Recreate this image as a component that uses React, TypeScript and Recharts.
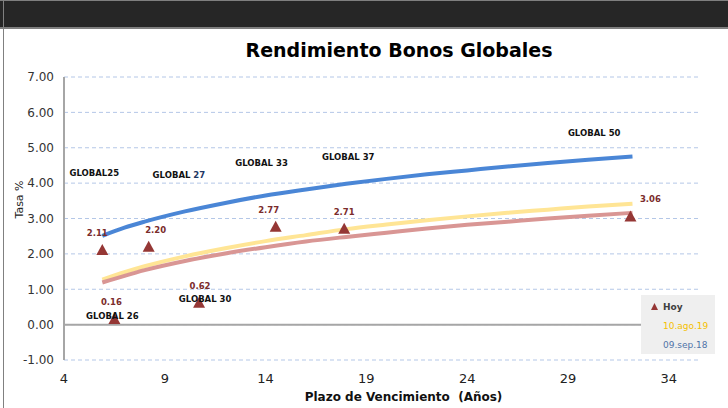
import React from 'react'
import { ComposedChart, Line, Scatter, XAxis, YAxis, CartesianGrid, ReferenceLine } from 'recharts'

// bond maturities (years) and today's yields
const bondNames = ['GLOBAL25', 'GLOBAL 26', 'GLOBAL 27', 'GLOBAL 30', 'GLOBAL 33', 'GLOBAL 37', 'GLOBAL 50']
const bondTerm = [5.9, 6.5, 8.2, 10.7, 14.5, 17.9, 32.1]
const hoyYield = [2.11, 0.16, 2.2, 0.62, 2.77, 2.71, 3.06]
// where the bond name labels sit (data units)
const nameX = [5.5, 6.4, 9.7, 11.0, 13.8, 18.1, 30.3]
const nameY = [4.29, 0.23, 4.24, 0.71, 4.58, 4.75, 5.42]
// value labels were nudged sideways by hand in the original
const valueLabelDx = [-5, -3, 7, 1, -7, 0, 20]

// curves
const curveTerm = [5.9, 7, 8, 10, 12, 14, 16, 18, 20, 22, 24, 26, 28, 30, 32.2]
const sep18 = [2.51, 2.74, 2.91, 3.2, 3.44, 3.65, 3.82, 3.98, 4.12, 4.25, 4.36, 4.47, 4.57, 4.66, 4.75]
const ago19 = [1.27, 1.48, 1.65, 1.93, 2.16, 2.36, 2.53, 2.7, 2.83, 2.95, 3.06, 3.16, 3.25, 3.34, 3.42]
const hoyTrend = [1.19, 1.38, 1.54, 1.8, 2.01, 2.19, 2.35, 2.48, 2.6, 2.72, 2.82, 2.91, 3.0, 3.08, 3.16]

const xTicks = [4, 9, 14, 19, 24, 29, 34]
const yTicks = [-1, 0, 1, 2, 3, 4, 5, 6, 7]

const legendItems = [
  { name: 'Hoy', color: '#404040', marker: '#953735' },
  { name: '10.ago.19', color: '#f5c000' },
  { name: '09.sep.18', color: '#4f74a8' },
]

const font = "'DejaVu Sans', Verdana, sans-serif"

const toPts = (ys: number[]) => curveTerm.map((x, i) => ({ x, y: ys[i] }))
const hoyPts = bondTerm.map((x, i) => ({ x, y: hoyYield[i], dx: valueLabelDx[i] }))
const namePts = bondNames.map((n, i) => ({ x: nameX[i], y: nameY[i], name: n }))

const Triangle = (p: any) => {
  const { cx, cy, payload } = p
  return (
    <g>
      <polygon points={`${cx - 6},${cy + 5} ${cx + 6},${cy + 5} ${cx},${cy - 6}`} fill="#953735" />
      <text x={cx + payload.dx} y={cy - 14} textAnchor="middle" fontSize={8.5} fontWeight="bold" fill="#7b2c2c" fontFamily={font}>
        {payload.y.toFixed(2)}
      </text>
    </g>
  )
}

const NameLabel = (p: any) => {
  const { cx, cy, payload } = p
  const parts = payload.name.split(' ')
  return (
    <text x={cx} y={cy} dy="0.35em" textAnchor="middle" fontSize={8.5} fontWeight="bold" fill="#111" fontFamily={font}>
      {parts[0]}
      {parts[1] ? <tspan fill={parts[1] === '27' ? '#1f3864' : '#111'}>{' ' + parts[1]}</tspan> : null}
    </text>
  )
}

export default function App() {
  return (
    <div style={{ position: 'relative', width: 728, height: 408, background: '#fff', overflow: 'hidden', fontFamily: font }}>
      <style>{'body{margin:0}'}</style>
      <div style={{ position: 'absolute', left: 0, top: 0, width: 728, height: 26, background: '#262626', borderTop: '1px solid #7f7f7f', borderBottom: '2px solid #7f7f7f' }} />
      <div style={{ position: 'absolute', left: 3, top: 0, width: 1, height: 408, background: '#808080' }} />
      <div style={{ position: 'absolute', left: 0, width: 798, top: 39, textAlign: 'center', fontSize: 19, fontWeight: 'bold', color: '#000' }}>
        Rendimiento Bonos Globales
      </div>
      <ComposedChart width={728} height={408} margin={{ top: 77, right: 29, bottom: 18, left: 0 }} style={{ position: 'absolute', left: 0, top: 0 }}>
        <CartesianGrid vertical={false} stroke="#b4c7e7" strokeDasharray="4 3" />
        <XAxis
          type="number"
          dataKey="x"
          domain={[4, 35.5]}
          ticks={xTicks}
          allowDataOverflow
          axisLine={false}
          tickLine={false}
          tickMargin={8}
          height={30}
          tick={{ fill: '#222', fontSize: 13, fontFamily: font }}
          label={{ value: 'Plazo de Vencimiento \u00a0(Años)', position: 'bottom', offset: 2, dx: 22, fill: '#111', fontSize: 12, fontWeight: 'bold', fontFamily: font }}
        />
        <YAxis
          type="number"
          dataKey="y"
          domain={[-1, 7]}
          ticks={yTicks}
          width={64}
          axisLine={{ stroke: '#a6a6a6', strokeWidth: 2 }}
          tickLine={false}
          tickMargin={4}
          tickFormatter={(v: number) => v.toFixed(2)}
          tick={{ fill: '#333', fontSize: 12, fontFamily: font }}
          label={{ value: 'Tasa %', angle: -90, position: 'insideLeft', offset: 19, fill: '#222', fontSize: 11, fontFamily: font }}
        />
        <ReferenceLine y={0} stroke="#a6a6a6" strokeWidth={2} />
        <Line data={toPts(sep18)} dataKey="y" type="monotone" stroke="#4a86d6" strokeWidth={4} dot={false} isAnimationActive={false} />
        <Line data={toPts(ago19)} dataKey="y" type="monotone" stroke="#ffe595" strokeWidth={4} dot={false} isAnimationActive={false} />
        <Line data={toPts(hoyTrend)} dataKey="y" type="monotone" stroke="#d99694" strokeWidth={4} dot={false} isAnimationActive={false} />
        <Scatter data={hoyPts} dataKey="y" shape={Triangle} isAnimationActive={false} />
        <Scatter data={namePts} dataKey="y" shape={NameLabel} isAnimationActive={false} />
      </ComposedChart>
      <div style={{ position: 'absolute', left: 641, top: 295, width: 74, height: 59, background: '#efefef', fontSize: 9, boxSizing: 'border-box', padding: '2px 0 0 10px' }}>
        {legendItems.map((it) => (
          <div key={it.name} style={{ height: 19, lineHeight: '14px', color: it.color, fontWeight: it.marker ? 'bold' : 'normal', display: 'flex', alignItems: 'center' }}>
            {it.marker ? (
              <svg width={8} height={8} style={{ marginRight: 4 }}>
                <polygon points="0,7 7,7 3.5,0" fill={it.marker} />
              </svg>
            ) : (
              <span style={{ width: 12 }} />
            )}
            {it.name}
          </div>
        ))}
      </div>
    </div>
  )
}
